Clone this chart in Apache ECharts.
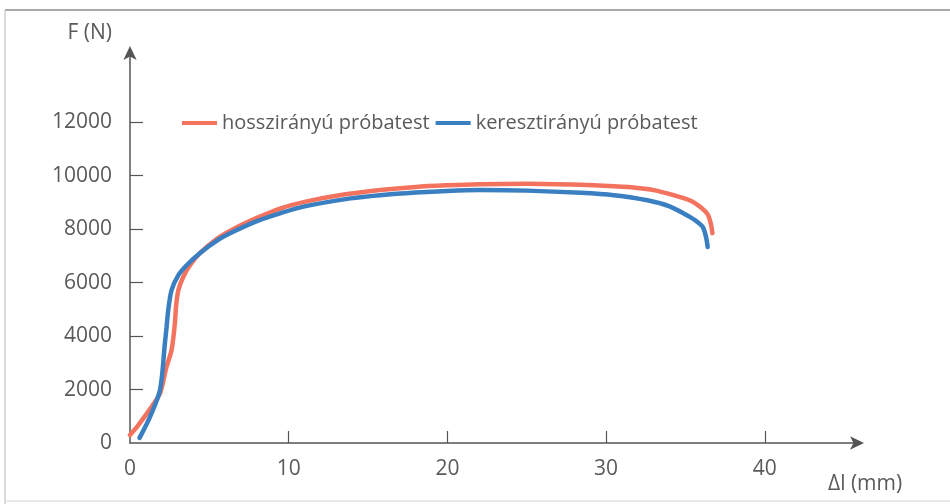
<!DOCTYPE html>
<html>
<head>
<meta charset="utf-8">
<script src="https://cdn.jsdelivr.net/npm/echarts@6/dist/echarts.min.js"></script>
<style>
  html, body { margin: 0; padding: 0; background: #ffffff; }
  #chart { width: 950px; height: 504px; }
</style>
</head>
<body>
<div id="chart"></div>
<script>
// Tensile test: force F (N) against elongation Δl (mm)
const seriesNames = ['hosszirányú próbatest', 'keresztirányú próbatest'];

// longitudinal specimen
const longX = [0, 0.5, 1.0, 1.5, 1.9, 2.3, 2.62, 2.83, 2.9, 3.05, 3.36, 3.78, 4.4, 5.5, 6.5, 8, 9.5, 11, 13, 15.75, 18, 20, 22, 25, 28.4, 30.5, 32, 33, 34.2, 35.3, 36, 36.4, 36.6, 36.7];
const longY = [300, 650, 1050, 1480, 1870, 2850, 3480, 4490, 5100, 5720, 6220, 6650, 7100, 7650, 8000, 8420, 8780, 9020, 9250, 9460, 9580, 9640, 9680, 9700, 9660, 9600, 9540, 9460, 9280, 9070, 8800, 8550, 8200, 7850];

// transverse specimen
const transX = [0.6, 1.26, 1.89, 2.2, 2.3, 2.41, 2.62, 3.05, 3.57, 4.4, 5.5, 6.5, 8, 9.5, 11, 13.9, 15.75, 18, 20, 22, 25, 28.4, 30.5, 32.6, 34, 35.3, 35.8, 36.1, 36.3, 36.4];
const transY = [190, 980, 1980, 3740, 4300, 4970, 5720, 6280, 6650, 7100, 7580, 7900, 8300, 8600, 8850, 9150, 9270, 9370, 9430, 9460, 9440, 9360, 9270, 9080, 8850, 8450, 8250, 8075, 7700, 7330];

const xTickValues = [0, 10, 20, 30, 40];
const yTickValues = [0, 2000, 4000, 6000, 8000, 10000, 12000];

const pair = (xs, ys) => xs.map((x, i) => [x, ys[i]]);

const textColor = '#5a5a5a';
const axisColor = '#555555';
const font = '"Open Sans", "Noto Sans", sans-serif';
const plain = v => String(v);

const chart = echarts.init(document.getElementById('chart'), null, { renderer: 'canvas' });

chart.setOption({
  animation: false,
  backgroundColor: '#ffffff',
  textStyle: { fontFamily: font },
  grid: { left: 130, right: 90, top: 50, bottom: 61, containLabel: false },
  legend: {
    left: 177,
    top: 108,
    icon: 'rect',
    itemWidth: 35,
    itemHeight: 4,
    itemGap: 6,
    textStyle: { color: textColor, fontSize: 20, fontFamily: font },
    data: seriesNames
  },
  xAxis: {
    type: 'value',
    min: 0,
    max: 46,
    interval: 10,
    name: 'Δl (mm)',
    nameLocation: 'end',
    nameGap: -32,
    nameTextStyle: { color: textColor, fontSize: 21, align: 'left', verticalAlign: 'top', padding: [31, 0, 0, 0] },
    splitLine: { show: false },
    axisLine: { show: true, symbol: ['none', 'arrow'], symbolSize: [10, 14], symbolOffset: [0, 4], lineStyle: { color: axisColor, width: 1.5 } },
    axisTick: { show: true, inside: true, length: 12, customValues: [10, 20, 30, 40], lineStyle: { color: axisColor, width: 1.2 } },
    axisLabel: { customValues: xTickValues, formatter: plain, color: textColor, fontSize: 21, margin: 16 }
  },
  yAxis: {
    type: 'value',
    min: 0,
    max: 14700,
    interval: 2000,
    name: 'F (N)',
    nameLocation: 'end',
    nameGap: 6,
    nameTextStyle: { color: textColor, fontSize: 21, align: 'right', verticalAlign: 'bottom', padding: [0, 18, 0, 0] },
    splitLine: { show: false },
    axisLine: { show: true, symbol: ['none', 'arrow'], symbolSize: [10, 14], symbolOffset: [0, 4], lineStyle: { color: axisColor, width: 1.5 } },
    axisTick: { show: true, inside: true, length: 13, customValues: [2000, 4000, 6000, 8000, 10000, 12000], lineStyle: { color: axisColor, width: 1.2 } },
    axisLabel: { customValues: yTickValues, formatter: plain, color: textColor, fontSize: 21, margin: 18 }
  },
  series: [
    {
      name: seriesNames[0],
      type: 'line',
      data: pair(longX, longY),
      showSymbol: false,
      smooth: 0.3,
      itemStyle: { color: '#f4735f' },
      lineStyle: { color: '#f4735f', width: 4.5, cap: 'round' },
      z: 2
    },
    {
      name: seriesNames[1],
      type: 'line',
      data: pair(transX, transY),
      showSymbol: false,
      smooth: 0.3,
      itemStyle: { color: '#3a7fc1' },
      lineStyle: { color: '#3a7fc1', width: 4.5, cap: 'round' },
      z: 3
    }
  ],
  graphic: [
    // page frame
    { type: 'line', shape: { x1: 5, y1: 10, x2: 950, y2: 10 }, style: { stroke: '#a8a8a8', lineWidth: 2 }, silent: true },
    { type: 'line', shape: { x1: 5, y1: 10, x2: 5, y2: 504 }, style: { stroke: '#cfcfcf', lineWidth: 1.5 }, silent: true },
    { type: 'line', shape: { x1: 5, y1: 501, x2: 950, y2: 501 }, style: { stroke: '#e2e2e2', lineWidth: 1.5 }, silent: true }
  ]
});
</script>
</body>
</html>
